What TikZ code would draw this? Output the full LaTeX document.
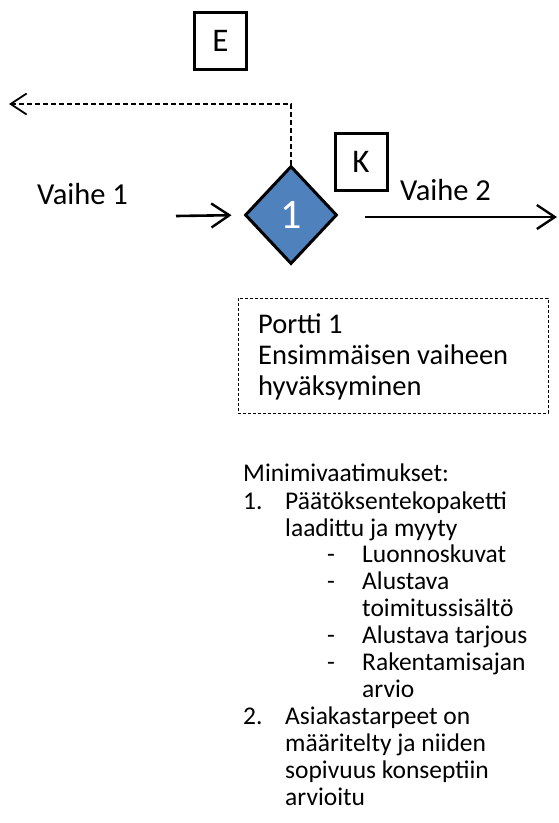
\documentclass[tikz,border=0pt]{standalone}
\usepackage{fontspec}
\setmainfont{Carlito}
\usetikzlibrary{shapes.geometric,arrows.meta}
\definecolor{gateblue}{HTML}{4F81BD}
\tikzset{
  lbl/.style={inner sep=0pt, anchor=base west, font=\fontsize{30.5}{36}\selectfont},
  gatetxt/.style={inner sep=0pt, anchor=base west, font=\fontsize{28.5}{31}\selectfont},
  listtxt/.style={inner sep=0pt, anchor=base west, font=\fontsize{25.5}{27}\selectfont},
  markbox/.style={draw, line width=3pt, minimum width=52pt, minimum height=57pt, inner sep=0pt, font=\fontsize{33}{36}\selectfont},
  flow/.style={line width=2.6pt, -{Straight Barb[length=18pt,width=24pt,line width=2.4pt]}},
  back/.style={line width=1.6pt, dash pattern=on 5pt off 3pt, -{Straight Barb[length=16pt,width=21pt,line width=1.8pt]}}
}
\begin{document}
\begin{tikzpicture}[x=1pt,y=-1pt]
\useasboundingbox (0,0) rectangle (558,823);

% gate diamond
\node[diamond, draw, line width=3pt, fill=gateblue, minimum width=92pt, minimum height=98pt, inner sep=0pt,
      text=white, font=\fontsize{42}{44}\selectfont] (dia) at (291,215) {1};

% decision boxes
\node[markbox] (E) at (220.5,41) {E};
\node[markbox] (K) at (361,162) {K};

% phase labels
\node[lbl] (v1) at (37,204) {Vaihe 1};
\node[lbl] (v2) at (400,200) {Vaihe 2};

% flow arrows
\coordinate (inS) at (176,216);
\coordinate (outE) at (557,217);
\coordinate (bendC) at (291,104);
\coordinate (backE) at (9,104);
\draw[flow, shorten >=12pt] (inS) -- (dia.west);
\draw[flow, shorten <=26pt] (dia.east |- outE) -- (outE);
\draw[back] (dia.north) -- (bendC) -- (backE);

% gate description box
\node[draw, densely dashed, line width=0.8pt, minimum width=310pt, minimum height=115pt, inner sep=0pt] (gate) at (393,355.5) {};
\node[gatetxt] (g1) at (258,333) {Portti 1};
\node[gatetxt] (g2) at (258,364) {Ensimmäisen vaiheen};
\node[gatetxt] (g3) at (258,395) {hyväksyminen};

% minimum requirements list
\node[listtxt] (m0) at (243,481) {Minimivaatimukset:};
\node[listtxt] (n1) at (243,509) {1.};
\node[listtxt] (m1) at (285,509) {Päätöksentekopaketti};
\node[listtxt] (m2) at (285,536) {laadittu ja myyty};
\node[listtxt] (d1) at (327,562) {-};
\node[listtxt] (s1) at (362,562) {Luonnoskuvat};
\node[listtxt] (d2) at (327,589) {-};
\node[listtxt] (s2) at (362,589) {Alustava};
\node[listtxt] (s3) at (362,616) {toimitussisältö};
\node[listtxt] (d3) at (327,643) {-};
\node[listtxt] (s4) at (362,643) {Alustava tarjous};
\node[listtxt] (d4) at (327,670) {-};
\node[listtxt] (s5) at (362,670) {Rakentamisajan};
\node[listtxt] (s6) at (362,697) {arvio};
\node[listtxt] (n2) at (243,724) {2.};
\node[listtxt] (m3) at (285,724) {Asiakastarpeet on};
\node[listtxt] (m4) at (285,751) {määritelty ja niiden};
\node[listtxt] (m5) at (285,778) {sopivuus konseptiin};
\node[listtxt] (m6) at (285,805) {arvioitu};
\end{tikzpicture}
\end{document}
